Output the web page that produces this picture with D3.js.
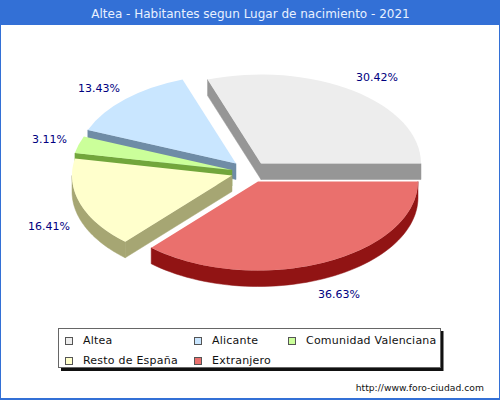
<!DOCTYPE html>
<html><head><meta charset="utf-8">
<script src="https://cdn.jsdelivr.net/npm/d3@7/dist/d3.min.js"></script>
<style>html,body{margin:0;padding:0;background:#fff}svg{display:block}text{font-family:"DejaVu Sans",sans-serif}</style>
</head><body><div id="c"></div>
<script>
const titleText = "Altea - Habitantes segun Lugar de nacimiento - 2021";
const creditText = "http://www.foro-ciudad.com";
const categories = ["Altea","Alicante","Comunidad Valenciana","Resto de España","Extranjero"];
const values = [30.42,13.43,3.11,16.41,36.63];
const topColors = ["#ededed","#c9e6ff","#cbff9a","#ffffcc","#ea706d"];
const sideColors = ["#969696","#6f8ca6","#72a63c","#a6a673","#911414"];

const W=500,H=400,rx=160,ry=89,depth=16;
const apex=[[261,163.5],[236,163.5],[232,170],[232,175.5],[258,181.5]];
const labelAt=[[356,81],[78,92],[32,143],[28,230],[318,298]];
const legendAt=[[65,337],[194,337],[288,337],[65,357],[194,357]];
const blue="#3370d6";

const svg=d3.select("#c").append("svg").attr("width",W).attr("height",H);
svg.append("rect").attr("width",W).attr("height",H).attr("fill",blue);
svg.append("rect").attr("x",1).attr("y",25).attr("width",W-2).attr("height",H-27).attr("fill","#fff");
svg.append("text").attr("x",250.5).attr("y",18).attr("text-anchor","middle").attr("font-size",12).attr("fill","#e8f0ff").text(titleText);

// d3 pie angles run clockwise from 12 o'clock; the chart starts at 3 o'clock and turns counter-clockwise
const arcs=d3.pie().sort(null).startAngle(Math.PI/2).endAngle(Math.PI/2-2*Math.PI)(values);
const toMath=a=>Math.PI/2-a;
const pt=(c,t,dy=0)=>[c[0]+rx*Math.cos(t),c[1]-ry*Math.sin(t)+dy];
const line=d3.line();
const unit=d3.arc().innerRadius(0).outerRadius(1);

arcs.forEach((d,i)=>{
  const c=apex[i],s=toMath(d.startAngle),e=toMath(d.endAngle);
  const g=svg.append("g");
  // side cut faces
  [[s,Math.cos(s)>1e-6],[e,Math.cos(e)<-1e-6]].forEach(([t,vis])=>{
    if(!vis) return;
    const p=pt(c,t);
    g.append("path").attr("fill",sideColors[i]).attr("stroke",sideColors[i]).attr("stroke-width",0.5)
     .attr("d",line([c,p,[p[0],p[1]+depth],[c[0],c[1]+depth]])+"Z");
  });
  // rim for the part of the outer arc that faces the viewer
  const a0=Math.max(s,Math.PI),a1=Math.min(e,2*Math.PI);
  if(a1>a0){
    const ts=d3.range(0,61).map(k=>a0+(a1-a0)*k/60);
    const pts=ts.map(t=>pt(c,t)).concat(ts.slice().reverse().map(t=>pt(c,t,depth)));
    g.append("path").attr("fill",sideColors[i]).attr("stroke",sideColors[i]).attr("stroke-width",0.5).attr("d",line(pts)+"Z");
  }
  g.append("path").attr("transform",`translate(${c[0]},${c[1]}) scale(${rx},${ry})`)
   .attr("fill",topColors[i]).attr("d",unit(d));
});

values.forEach((v,i)=>{
  svg.append("text").attr("x",labelAt[i][0]).attr("y",labelAt[i][1]).attr("font-size",11).attr("fill","#000080")
    .text(d3.format(".2f")(v)+"%");
});

// legend
svg.append("rect").attr("x",61).attr("y",331).attr("width",382.5).attr("height",40).attr("fill","#111");
svg.append("rect").attr("x",58.5).attr("y",328.5).attr("width",382).attr("height",39).attr("fill","#fff").attr("stroke","#666");
categories.forEach((n,i)=>{
  const [x,y]=legendAt[i];
  svg.append("rect").attr("x",x+.5).attr("y",y+.5).attr("width",7).attr("height",7).attr("fill",topColors[i]).attr("stroke","#555");
  svg.append("text").attr("x",x+18).attr("y",y+6.5).attr("font-size",11).attr("letter-spacing",0.22).attr("fill","#111").text(n);
});
svg.append("text").attr("x",484).attr("y",391).attr("text-anchor","end").attr("font-size",9.2).attr("letter-spacing",0.03).attr("fill","#111").text(creditText);
</script></body></html>
